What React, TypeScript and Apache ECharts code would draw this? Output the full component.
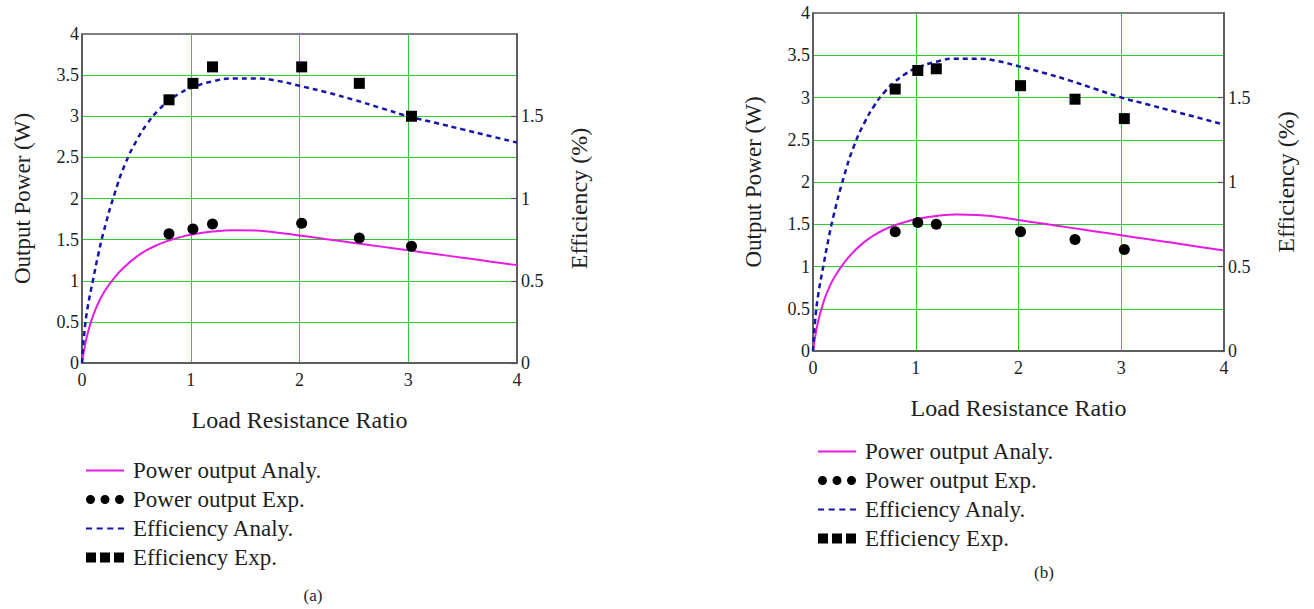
import React, { useEffect, useRef } from 'react';
import * as echarts from 'echarts';

// ---- data ----
const ratioAnaly = [0, 0.02, 0.05, 0.1, 0.15, 0.2, 0.3, 0.4, 0.5, 0.6, 0.7, 0.8, 0.9, 1.0, 1.2, 1.4, 1.6, 1.8, 2.0, 2.25, 2.5, 2.75, 3.0, 3.25, 3.5, 3.75, 4.0];
const powerAnaly = [0, 0.16, 0.35, 0.57, 0.73, 0.855, 1.04, 1.18, 1.29, 1.375, 1.44, 1.49, 1.528, 1.558, 1.598, 1.614, 1.61, 1.585, 1.55, 1.505, 1.46, 1.415, 1.37, 1.325, 1.28, 1.235, 1.19];
const effAnaly = [0, 0.175, 0.33, 0.5, 0.66, 0.8, 1.03, 1.215, 1.35, 1.455, 1.535, 1.595, 1.64, 1.672, 1.712, 1.73, 1.73, 1.715, 1.685, 1.645, 1.6, 1.55, 1.5, 1.46, 1.42, 1.38, 1.34];

const ratioExp = [0.8, 1.02, 1.2, 2.02, 2.55, 3.03];
const powerExpA = [1.57, 1.63, 1.69, 1.7, 1.52, 1.42];
const effExpA = [1.6, 1.7, 1.8, 1.8, 1.7, 1.5];
const powerExpB = [1.41, 1.52, 1.5, 1.41, 1.32, 1.2];
const effExpB = [1.55, 1.66, 1.67, 1.57, 1.49, 1.375];

const seriesNames = ['Power output Analy.', 'Power output Exp.', 'Efficiency Analy.', 'Efficiency Exp.'];
const captions = ['(a)', '(b)'];
const xName = 'Load Resistance Ratio';
const yLeftName = 'Output Power (W)';
const yRightName = 'Efficiency (%)';

const SERIF = "'Liberation Serif', 'Times New Roman', serif";
const MAGENTA = '#e41ce4';
const BLUE = '#1515a8';
const GREEN = '#2bcc2b';
const FRAME = '#555555';
const TEXT = '#1e1e1e';

const icons = [
  'path://M0,0L38,0L38,2L0,2Z',
  'path://M0,4.5A4.5,4.5,0,1,0,9,4.5A4.5,4.5,0,1,0,0,4.5ZM14.5,4.5A4.5,4.5,0,1,0,23.5,4.5A4.5,4.5,0,1,0,14.5,4.5ZM29,4.5A4.5,4.5,0,1,0,38,4.5A4.5,4.5,0,1,0,29,4.5Z',
  'path://M0,0L6,0L6,2L0,2ZM10.5,0L16.5,0L16.5,2L10.5,2ZM21,0L27,0L27,2L21,2ZM31.5,0L37.5,0L37.5,2L31.5,2Z',
  'path://M0,0L10,0L10,10L0,10ZM14,0L24,0L24,10L14,10ZM28,0L38,0L38,10L28,10Z',
];

const zip = (xs: number[], ys: number[]) => xs.map((x, i) => [x, ys[i]]);

const grids = [
  { left: 82, top: 34, width: 435, height: 329 },
  { left: 813, top: 13, width: 411, height: 338 },
];
const legendPos = [
  { left: 86, top: 459 },
  { left: 818, top: 440 },
];
const captionPos = [
  { x: 313, y: 595 },
  { x: 1044, y: 572 },
];

export default function App() {
  const ref = useRef<HTMLDivElement>(null);
  useEffect(() => {
    document.body.style.margin = '0';
    if (!ref.current) return;
    const chart = echarts.init(ref.current, null, { renderer: 'svg' });

    const xAxis: any[] = [];
    const yAxis: any[] = [];
    const series: any[] = [];
    const legend: any[] = [];
    const graphic: any[] = [];
    const expData = [
      { p: powerExpA, e: effExpA },
      { p: powerExpB, e: effExpB },
    ];

    grids.forEach((g, i) => {
      xAxis.push({
        type: 'value', gridIndex: i, min: 0, max: 4, interval: 1,
        axisLine: { show: true, onZero: false, lineStyle: { color: FRAME, width: 1.5 } },
        axisTick: { show: false },
        axisLabel: { color: TEXT, fontSize: 18, fontFamily: SERIF, margin: 8 },
        splitLine: { show: true, showMinLine: false, showMaxLine: false, lineStyle: { color: GREEN, width: 1 } },
        name: xName, nameLocation: 'middle', nameGap: 45,
        nameTextStyle: { color: TEXT, fontSize: 24, fontFamily: SERIF },
      });
      yAxis.push({
        type: 'value', gridIndex: i, min: 0, max: 4, interval: 0.5, position: 'left',
        axisLine: { show: true, onZero: false, lineStyle: { color: FRAME, width: 1.5 } },
        axisTick: { show: false },
        axisLabel: { color: TEXT, fontSize: 18, fontFamily: SERIF, margin: 3 },
        splitLine: { show: true, showMinLine: false, showMaxLine: false, lineStyle: { color: GREEN, width: 1 } },
        name: yLeftName, nameLocation: 'middle', nameGap: 48,
        nameTextStyle: { color: TEXT, fontSize: 23, fontFamily: SERIF },
      });
      yAxis.push({
        type: 'value', gridIndex: i, min: 0, max: 2, interval: 0.5, position: 'right',
        axisLine: { show: true, onZero: false, lineStyle: { color: FRAME, width: 1.5 } },
        axisTick: { show: true, inside: true, length: 6, lineStyle: { color: FRAME, width: 1.2 } },
        axisLabel: { color: TEXT, fontSize: 18, fontFamily: SERIF, margin: 4, showMaxLabel: false },
        splitLine: { show: false },
        name: yRightName, nameLocation: 'middle', nameGap: 50,
        nameTextStyle: { color: TEXT, fontSize: 24, fontFamily: SERIF },
      });

      series.push({
        name: seriesNames[0], type: 'line', xAxisIndex: i, yAxisIndex: 2 * i,
        data: zip(ratioAnaly, powerAnaly), showSymbol: false, symbol: 'none',
        smooth: 0.5,
        itemStyle: { color: MAGENTA }, lineStyle: { color: MAGENTA, width: 2 }, z: 3,
      });
      series.push({
        name: seriesNames[2], type: 'line', xAxisIndex: i, yAxisIndex: 2 * i + 1,
        data: zip(ratioAnaly, effAnaly), showSymbol: false, symbol: 'none',
        smooth: 0.5,
        itemStyle: { color: BLUE }, lineStyle: { color: BLUE, width: 2.5, type: [5, 4] }, z: 3,
      });
      series.push({
        name: seriesNames[1], type: 'scatter', xAxisIndex: i, yAxisIndex: 2 * i,
        data: zip(ratioExp, expData[i].p), symbol: 'circle', symbolSize: 11,
        itemStyle: { color: '#000', opacity: 1 }, z: 4,
      });
      series.push({
        name: seriesNames[3], type: 'scatter', xAxisIndex: i, yAxisIndex: 2 * i + 1,
        data: zip(ratioExp, expData[i].e), symbol: 'rect', symbolSize: 11,
        itemStyle: { color: '#000', opacity: 1 }, z: 4,
      });

      legend.push({
        ...legendPos[i], orient: 'vertical', itemWidth: 38, itemHeight: 10, itemGap: 6,
        selectedMode: false, padding: 0,
        data: seriesNames.map((n, k) => ({ name: n, icon: icons[k] })),
        itemStyle: { borderWidth: 0, opacity: 1 },
        textStyle: { color: TEXT, fontSize: 23, fontFamily: SERIF, padding: [0, 0, 0, 4] },
      });

      graphic.push({
        type: 'text', x: captionPos[i].x, y: captionPos[i].y,
        style: { text: captions[i], fontSize: 17, fontFamily: SERIF, fill: TEXT, align: 'center', verticalAlign: 'middle' },
      });
    });

    chart.setOption({
      animation: false,
      backgroundColor: '#ffffff',
      grid: grids.map((g) => ({ ...g, show: true, borderColor: FRAME, borderWidth: 1.5, backgroundColor: 'transparent', containLabel: false, outerBoundsMode: 'none' })),
      xAxis, yAxis, series, legend, graphic,
    });
    return () => chart.dispose();
  }, []);
  return <div ref={ref} style={{ width: 1314, height: 609 }} />;
}
